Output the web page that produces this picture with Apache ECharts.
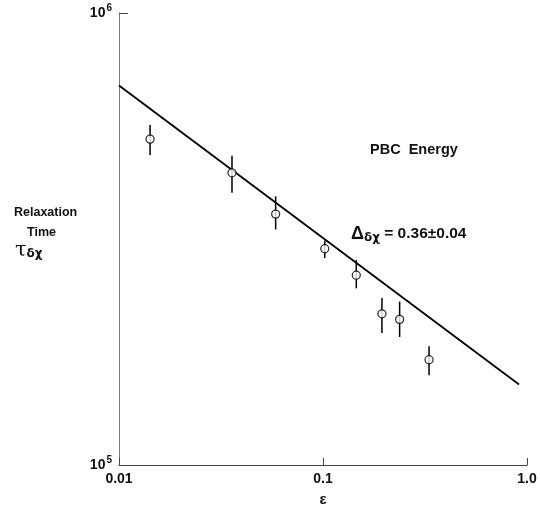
<!DOCTYPE html>
<html>
<head>
<meta charset="utf-8">
<script src="https://cdn.jsdelivr.net/npm/echarts@6/dist/echarts.min.js"></script>
<style>
  html, body { margin: 0; padding: 0; background: #fff; }
  #main { width: 540px; height: 512px; }
</style>
</head>
<body>
<div id="main"></div>
<script>
// epsilon values of the measured points
var epsValues = [0.0142, 0.0358, 0.0586, 0.102, 0.1456, 0.1945, 0.2375, 0.331];
// relaxation time (centre, low, high)
var tauValues = [5.26e5, 4.43e5, 3.59e5, 3.01e5, 2.63e5, 2.16e5, 2.10e5, 1.71e5];
var tauLow    = [4.85e5, 4.00e5, 3.32e5, 2.87e5, 2.46e5, 1.96e5, 1.92e5, 1.58e5];
var tauHigh   = [5.65e5, 4.83e5, 3.93e5, 3.14e5, 2.84e5, 2.34e5, 2.30e5, 1.83e5];
// fitted power law line end points
var fitEps = [0.01, 0.914];
var fitTau = [6.91e5, 1.507e5];
// tick labels
var xTickLabels = { '0.01': '0.01', '0.1': '0.1', '1': '1.0' };
var yTickLabels = { '100000': '{a|10}{b|5}', '1000000': '{a|10}{b|6}' };

var font = 'Liberation Sans';
var ink = '#111';

var points = epsValues.map(function (e, i) { return [e, tauValues[i]]; });
var bars = epsValues.map(function (e, i) { return [e, tauLow[i], tauHigh[i]]; });
var fit = fitEps.map(function (e, i) { return [e, fitTau[i]]; });

var myChart = echarts.init(document.getElementById('main'));
myChart.setOption({
  animation: false,
  backgroundColor: '#fff',
  grid: { left: 119, right: 13, top: 13, bottom: 44 },
  xAxis: {
    type: 'log', logBase: 10, min: 0.01, max: 1,
    axisLine: { lineStyle: { color: '#444', width: 1 } },
    axisTick: { inside: true, length: 7, lineStyle: { color: '#444' } },
    minorTick: { show: false },
    splitLine: { show: false },
    axisLabel: {
      color: ink, fontFamily: font, fontSize: 14, fontWeight: 'bold', margin: 7,
      formatter: function (v) { return xTickLabels[String(+v.toPrecision(3))] || ''; }
    },
    name: 'ε', nameLocation: 'middle', nameGap: 27,
    nameTextStyle: { color: ink, fontFamily: font, fontSize: 15, fontWeight: 'bold' }
  },
  yAxis: {
    type: 'log', logBase: 10, min: 1e5, max: 1e6,
    axisLine: { lineStyle: { color: '#777', width: 1 } },
    axisTick: { inside: true, length: 9, lineStyle: { color: '#444' } },
    splitLine: { show: false },
    axisLabel: {
      color: ink, fontFamily: font, margin: 7,
      formatter: function (v) { return yTickLabels[String(Math.round(v))] || ''; },
      rich: {
        a: { fontFamily: font, fontSize: 14, fontWeight: 'bold', color: ink },
        b: { fontFamily: font, fontSize: 10, fontWeight: 'bold', color: ink, padding: [0, 0, 10, 1] }
      }
    }
  },
  series: [
    {
      type: 'line', data: fit, symbol: 'none',
      lineStyle: { color: '#000', width: 1.8 }, z: 2
    },
    {
      type: 'custom', data: bars, z: 3,
      renderItem: function (params, api) {
        var lo = api.coord([api.value(0), api.value(1)]);
        var hi = api.coord([api.value(0), api.value(2)]);
        return {
          type: 'line',
          shape: { x1: lo[0], y1: lo[1], x2: hi[0], y2: hi[1] },
          style: { stroke: '#000', lineWidth: 1.5 }
        };
      }
    },
    {
      type: 'scatter', data: points, symbol: 'circle', symbolSize: 8, z: 4,
      itemStyle: { color: '#fff', borderColor: '#000', borderWidth: 1.3 }
    }
  ],
  graphic: [
    { type: 'text', left: 14, top: 206, style: { text: 'Relaxation', font: 'bold 12.5px "' + font + '"', fill: ink } },
    { type: 'text', left: 27, top: 226, style: { text: 'Time', font: 'bold 12.5px "' + font + '"', fill: ink } },
    { type: 'text', left: 15, top: 240, style: {
        text: '{t|τ}{s|δχ}',
        rich: {
          t: { fontFamily: 'DejaVu Serif', fontSize: 21, fill: ink },
          s: { fontFamily: 'DejaVu Sans', fontSize: 12, fontWeight: 'bold', fill: ink, padding: [7, 0, 0, 0] }
        }
    } },
    { type: 'text', left: 370, top: 142, style: { text: 'PBC  Energy', font: 'bold 14.5px "' + font + '"', fill: ink } },
    { type: 'text', left: 351, top: 225, style: {
        text: '{d|Δ}{s|δχ}{v| = 0.36±0.04}',
        rich: {
          d: { fontFamily: font, fontSize: 18, fontWeight: 'bold', fill: ink },
          s: { fontFamily: 'DejaVu Sans', fontSize: 12, fontWeight: 'bold', fill: ink, padding: [8, 0, 0, 0] },
          v: { fontFamily: font, fontSize: 15.5, fontWeight: 'bold', fill: ink }
        }
    } }
  ]
});
</script>
</body>
</html>
